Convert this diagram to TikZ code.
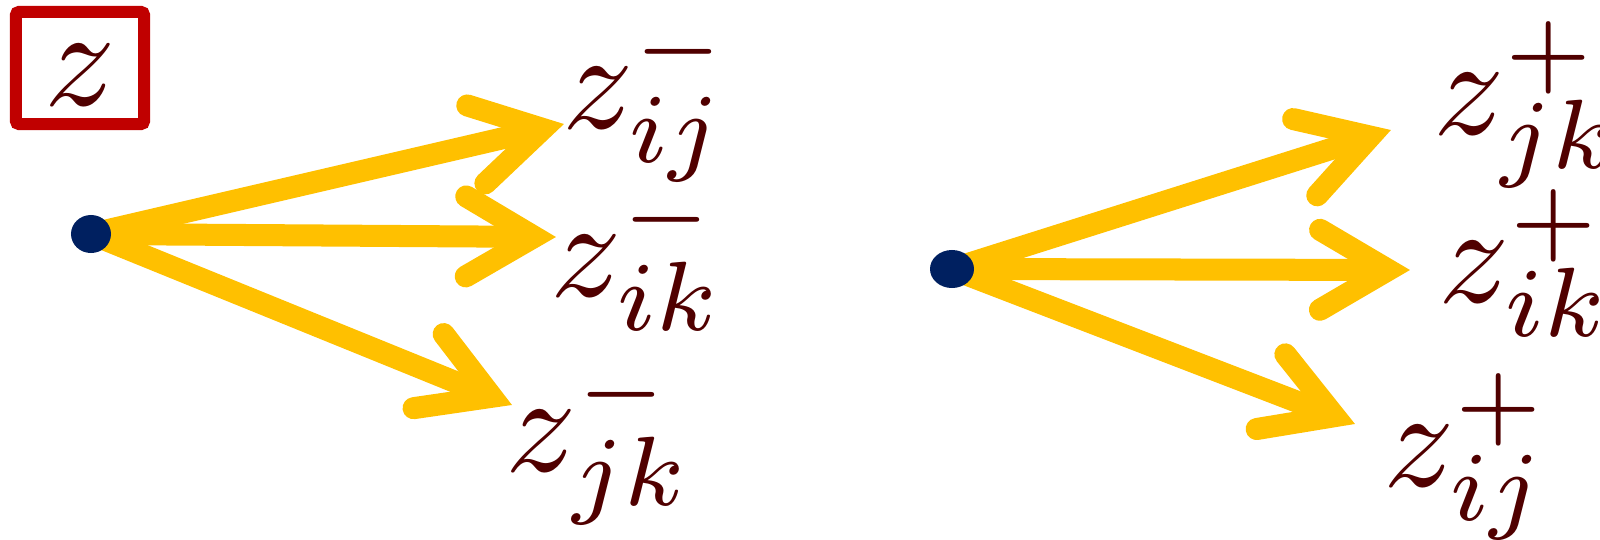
\RequirePackage{fix-cm}
\documentclass[tikz,border=0pt]{standalone}
\DeclareFontShape{OML}{cmm}{m}{it}{<-30> cmmi7 <30-> cmmi10}{}
\DeclareFontShape{OMS}{cmsy}{m}{n}{<-30> cmsy7 <30-> cmsy10}{}
\DeclareFontShape{OT1}{cmr}{m}{n}{<-30> cmr7 <30-> cmr10}{}
\DeclareMathSizes{40}{40}{28}{20}
\definecolor{boxred}{RGB}{192,0,0}
\definecolor{labelred}{RGB}{80,0,0}
\definecolor{amber}{RGB}{255,192,0}
\definecolor{navy}{RGB}{0,32,96}
\usetikzlibrary{shapes.geometric, decorations.markings}

\begin{document}
\begin{tikzpicture}[x=0.01cm, y=-0.01cm,
    every node/.style={font=\fontsize{40}{48}\selectfont, text=labelred, inner sep=0pt},
    lbl/.style={anchor=base west},
    src/.style={ellipse, fill=navy, minimum width=0.40cm, minimum height=0.38cm},
    shaft/.style={draw=amber, line width=0.22cm, shorten >=0.218cm,
      postaction={decorate},
      decoration={markings, mark=at position 1 with {
        \draw[amber, line width=0.22cm, line cap=round, line join=miter, shorten >=0pt, shorten <=0pt]
          (-90,40) -- (-21.8,0) -- (-90,-40);}}}]
  \useasboundingbox (0,0) rectangle (1600,539);

  % boxed z
  \node[draw=boxred, line width=0.12cm, rounded corners=0.03cm, minimum width=1.28cm,
        minimum height=1.12cm, text height=0.74cm, text depth=0pt] (zbox) at (80,68) {$z$};

  % left: z^- directions
  \coordinate (srcL) at (91,234);
  \coordinate (tipLa) at (564,124);
  \coordinate (tipLb) at (556,237);
  \coordinate (tipLc) at (512,405);
  \draw[shaft] (srcL) -- (tipLa);
  \draw[shaft] (srcL) -- (tipLb);
  \draw[shaft] (srcL) -- (tipLc);
  \node[src] (dotL) at (srcL) {};
  \node[lbl] (zijm) at (562,128) {$z_{ij}^{-}$};
  \node[lbl] (zikm) at (550,296) {$z_{ik}^{-}$};
  \node[lbl] (zjkm) at (505,471) {$z_{jk}^{-}$};

  % right: z^+ directions
  \coordinate (srcR) at (952,269);
  \coordinate (tipRa) at (1391,130);
  \coordinate (tipRb) at (1410,270);
  \coordinate (tipRc) at (1355,424);
  \draw[shaft] (srcR) -- (tipRa);
  \draw[shaft] (srcR) -- (tipRb);
  \draw[shaft] (srcR) -- (tipRc);
  \node[src, minimum width=0.44cm] (dotR) at (srcR) {};
  \node[lbl] (zjkp) at (1433,134) {$z_{jk}^{+}$};
  \node[lbl] (zikp) at (1438,302) {$z_{ik}^{+}$};
  \node[lbl] (zijp) at (1383,486) {$z_{ij}^{+}$};
\end{tikzpicture}
\end{document}
